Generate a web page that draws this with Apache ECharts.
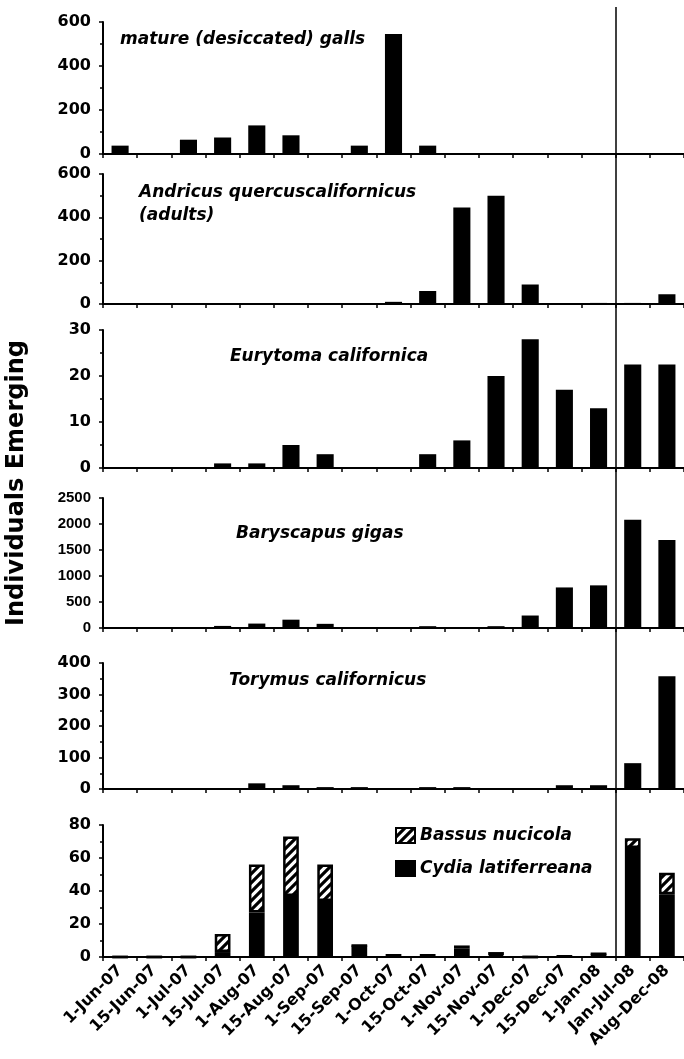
<!DOCTYPE html>
<html>
<head>
<meta charset="utf-8">
<script src="https://cdn.jsdelivr.net/npm/echarts@6.0.0/dist/echarts.min.js"></script>
<style>
html,body{margin:0;padding:0;background:#fff;}
#c{width:684px;height:1059px;}
</style>
</head>
<body>
<div id="c"></div>
<script>
// ---------- data ----------
const categories = ['1-Jun-07','15-Jun-07','1-Jul-07','15-Jul-07','1-Aug-07','15-Aug-07','1-Sep-07','15-Sep-07','1-Oct-07','15-Oct-07','1-Nov-07','15-Nov-07','1-Dec-07','15-Dec-07','1-Jan-08','Jan-Jul-08','Aug\u2013Dec-08'];

const matureGalls = [38,0,65,75,130,85,0,38,545,38,0,0,0,0,0,0,0];
const andricus    = [0,0,0,0,0,0,0,0,10,60,445,500,90,0,5,5,45];
const eurytoma    = [0,0,0,1,1,5,3,0,0,3,6,20,28,17,13,22.5,22.5];
const baryscapus  = [0,0,0,40,85,160,80,0,0,35,0,35,240,780,820,2080,1690];
const torymus     = [0,0,0,0,18,12,6,6,0,6,6,0,0,12,12,82,358];
const cydia       = [0,0,0,3,27,37,34,7,1,1,5,1,0,0.5,2,66,38];
const bassus      = [0,0,0,11,29,36,22,0,0,0,2,2,0,0,0,6,13];

const panelTitles = [
  ['mature (desiccated) galls'],
  ['Andricus quercuscalifornicus','(adults)'],
  ['Eurytoma californica'],
  ['Baryscapus gigas'],
  ['Torymus californicus']
];
const yMax      = [600,600,30,2500,400,80];
const yInterval = [200,200,10,500,100,20];
const legendNames = ['Bassus nucicola','Cydia latiferreana'];
const yTitle = 'Individuals Emerging';

// ---------- layout ----------
const gridPos = [
  {top:22,  height:132},
  {top:174, height:130},
  {top:330, height:138},
  {top:498, height:130},
  {top:663, height:126},
  {top:825, height:132}
];
const titlePos = [
  [[120,40]],
  [[139,193],[139,216]],
  [[230,357]],
  [[236,534]],
  [[229,681]]
];

// hatch pattern
function makeHatch(){
  const s = 9;
  const cv = document.createElement('canvas');
  cv.width = s; cv.height = s;
  const g = cv.getContext('2d');
  g.fillStyle = '#fff'; g.fillRect(0,0,s,s);
  g.strokeStyle = '#000'; g.lineWidth = 3.2;
  g.beginPath();
  g.moveTo(-2, s+2); g.lineTo(s+2, -2);
  g.moveTo(-2-s/2, s/2+2); g.lineTo(s/2+2, -2-s/2);
  g.moveTo(s/2-2, s+s/2+2); g.lineTo(s+s/2+2, s/2-2);
  g.stroke();
  return cv;
}
const hatch = {image: makeHatch(), repeat: 'repeat'};

const FONT = '"DejaVu Sans", sans-serif';
const chart = echarts.init(document.getElementById('c'), null, {renderer:'canvas'});

const grids = [], xAxes = [], yAxes = [];
for (let i = 0; i < 6; i++) {
  grids.push({left:103, right:0, top:gridPos[i].top, height:gridPos[i].height, containLabel:false});
  xAxes.push({
    type:'category', gridIndex:i, data:categories,
    axisLine:{show:true, lineStyle:{color:'#000', width:2}},
    axisTick:{show:true, interval:0, length:4, lineStyle:{color:'#000', width:1.5}},
    axisLabel:{show: i===5, interval:0, rotate:45, margin:11, color:'#000',
      fontFamily:FONT, fontWeight:'bold', fontSize:16},
    splitLine:{show:false}
  });
  const narrow = (i===3);
  yAxes.push({
    type:'value', gridIndex:i, min:0, max:yMax[i], interval:yInterval[i],
    axisLine:{show:true, lineStyle:{color:'#000', width:2}},
    axisTick:{show:true, length:4, lineStyle:{color:'#000', width:1.5}},
    minorTick:{show: !narrow, splitNumber:2, length:3, lineStyle:{color:'#000', width:1.5}},
    axisLabel:{color:'#000', margin:12, formatter:(v)=>String(v),
      fontFamily: narrow ? '"Liberation Sans", Arial, sans-serif' : FONT,
      fontWeight:'bold', fontSize: narrow ? 15 : 16},
    splitLine:{show:false}, minorSplitLine:{show:false}
  });
}

const single = [matureGalls, andricus, eurytoma, baryscapus, torymus];
const series = single.map((d,i)=>({
  type:'bar', xAxisIndex:i, yAxisIndex:i, data:d, barWidth:'50%',
  itemStyle:{color:'#000'}, silent:true
}));
series.push({
  name:legendNames[1], type:'bar', xAxisIndex:5, yAxisIndex:5, stack:'p6', data:cydia,
  barWidth:'46%', itemStyle:{color:'#000', borderColor:'#000', borderWidth:2.5}
});
series.push({
  name:legendNames[0], type:'bar', xAxisIndex:5, yAxisIndex:5, stack:'p6', data:bassus,
  barWidth:'46%', itemStyle:{color:hatch, borderColor:'#000', borderWidth:2.5}
});

const graphics = [];
panelTitles.forEach((lines,i)=>{
  lines.forEach((t,j)=>{
    graphics.push({type:'text', x:titlePos[i][j][0], y:titlePos[i][j][1],
      style:{text:t, fill:'#000', font:'italic bold 17px "DejaVu Sans"', verticalAlign:'middle'}});
  });
});
graphics.push({type:'text', x:17, y:483, rotation:Math.PI/2,
  style:{text:yTitle, fill:'#000', font:'bold 24px "DejaVu Sans"', align:'center', verticalAlign:'middle'}});

chart.setOption({
  animation:false,
  backgroundColor:'#fff',
  grid:grids, xAxis:xAxes, yAxis:yAxes, series:series,
  legend:{
    data:legendNames, orient:'vertical', left:390, top:822,
    itemWidth:19, itemHeight:15, itemGap:16, icon:'rect', selectedMode:false,
    textStyle:{color:'#000', fontFamily:FONT, fontStyle:'italic', fontWeight:'bold', fontSize:17}
  },
  graphic:graphics
});

// divider line between 1-Jan-08 and Jan-Jul-08, placed through the axis scale
const xa = chart.convertToPixel({xAxisIndex:5}, categories[14]);
const xb = chart.convertToPixel({xAxisIndex:5}, categories[15]);
const xd = Math.round((xa+xb)/2);
const yTop = chart.convertToPixel({yAxisIndex:0}, yMax[0]) - 15;
const yBot = chart.convertToPixel({yAxisIndex:5}, 0);
graphics.push({type:'line', shape:{x1:xd, y1:yTop, x2:xd, y2:yBot},
  style:{stroke:'#000', lineWidth:1.5}, z:10});
chart.setOption({graphic:graphics});
</script>
</body>
</html>
